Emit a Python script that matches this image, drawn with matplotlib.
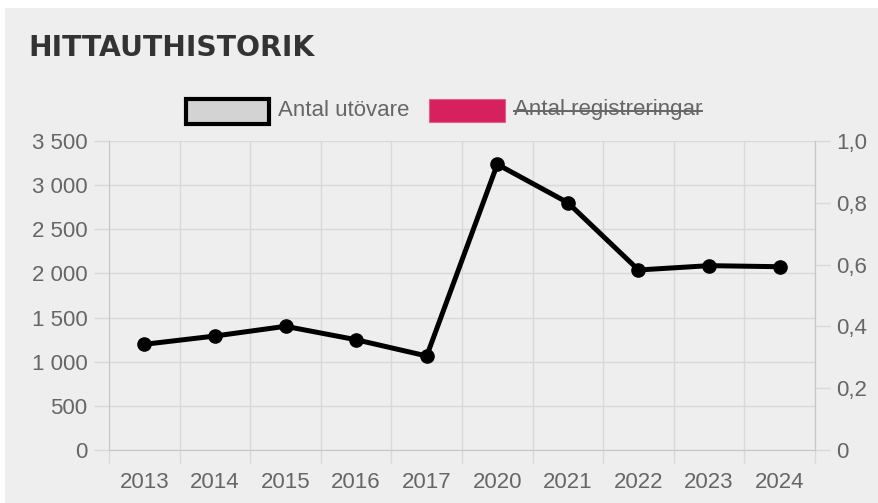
import matplotlib.pyplot as plt
from matplotlib.patches import Rectangle
from matplotlib.lines import Line2D
from matplotlib.ticker import FuncFormatter

# data
years = ['2013', '2014', '2015', '2016', '2017', '2020', '2021', '2022', '2023', '2024']
utovare = [1197, 1291, 1401, 1249, 1065, 3236, 2801, 2039, 2088, 2076]
left_ticks = [0, 500, 1000, 1500, 2000, 2500, 3000, 3500]
right_ticks = [0, 0.2, 0.4, 0.6, 0.8, 1.0]

W, H = 879, 503
bg = '#eeeeee'
grid_c = '#d9d9d9'
axis_c = '#c6c6c6'
txt_c = '#666666'

plt.rcParams['font.family'] = ['Liberation Sans', 'DejaVu Sans']

fig = plt.figure(figsize=(W / 100, H / 100), dpi=100, facecolor='white')
# gray panel behind everything
fig.patches.append(Rectangle((5 / W, 0), 1, 1 - 8 / H, transform=fig.transFigure,
                             facecolor=bg, edgecolor='none', zorder=-10))

ax = fig.add_axes([109 / W, 1 - 450 / H, (815 - 109) / W, (450 - 141) / H])
ax.set_facecolor(bg)

x = list(range(len(years)))
ax.plot(x, utovare, color='black', lw=3.6, marker='o', markersize=9.5, zorder=5,
        solid_joinstyle='round')

ax.set_xlim(-0.5, len(years) - 0.5)
ax.set_ylim(0, 3500)
ax.set_xticks(x)
ax.set_xticklabels(years)
ax.set_xticks([i - 0.5 for i in range(len(years) + 1)], minor=True)
ax.set_yticks(left_ticks)
ax.yaxis.set_major_formatter(FuncFormatter(lambda v, p: f'{int(v):,}'.replace(',', ' ')))

ax.tick_params(axis='x', which='major', length=0, pad=16, labelsize=16, labelcolor=txt_c)
ax.tick_params(axis='x', which='minor', length=9.5, width=1, color=grid_c)
ax.tick_params(axis='y', length=11, width=1, color=grid_c, pad=4.5, labelsize=16,
               labelcolor=txt_c)
ax.grid(True, which='minor', axis='x', color=grid_c, lw=1)
ax.grid(True, which='major', axis='y', color=grid_c, lw=1)
ax.set_axisbelow(True)

ax.spines['top'].set_visible(False)
ax.spines['left'].set_color(axis_c)
ax.spines['right'].set_color(axis_c)
ax.spines['bottom'].set_color(axis_c)

ax2 = ax.twinx()
ax2.set_ylim(0, 1.0)
ax2.set_yticks(right_ticks)
ax2.yaxis.set_major_formatter(FuncFormatter(
    lambda v, p: '0' if v == 0 else f'{v:.1f}'.replace('.', ',')))
ax2.tick_params(axis='y', length=11, width=1, color=grid_c, pad=4.5, labelsize=16,
                labelcolor=txt_c)
for s in ['top', 'left', 'bottom']:
    ax2.spines[s].set_visible(False)
ax2.spines['right'].set_color(axis_c)

# title
fig.text(28 / W, 1 - 48 / H, 'HITTAUTHISTORIK', fontsize=20.3, fontweight='bold',
         color='#333333', va='center', ha='left', family=['DejaVu Sans'])

# legend drawn by hand
fig.patches.append(Rectangle((186 / W, 1 - 124 / H), 83 / W, 25 / H, transform=fig.transFigure,
                             facecolor='#d3d3d3', edgecolor='black', lw=3))
fig.text(278 / W, 1 - 110 / H, 'Antal utövare', fontsize=16, color=txt_c,
         va='center', ha='left')
fig.patches.append(Rectangle((429 / W, 1 - 122 / H), 76 / W, 23 / H, transform=fig.transFigure,
                             facecolor='#d6215e', edgecolor='#e0608a', lw=0.8))
t = fig.text(514 / W, 1 - 110 / H, 'Antal registreringar', fontsize=16, color=txt_c,
             va='center', ha='left')
fig.canvas.draw()
bb = t.get_window_extent().transformed(fig.transFigure.inverted())
fig.lines.append(Line2D([bb.x0, bb.x1], [1 - 111 / H] * 2, transform=fig.transFigure,
                        color=txt_c, lw=1.4))

fig.savefig('out.png', dpi=100, facecolor=fig.get_facecolor())
